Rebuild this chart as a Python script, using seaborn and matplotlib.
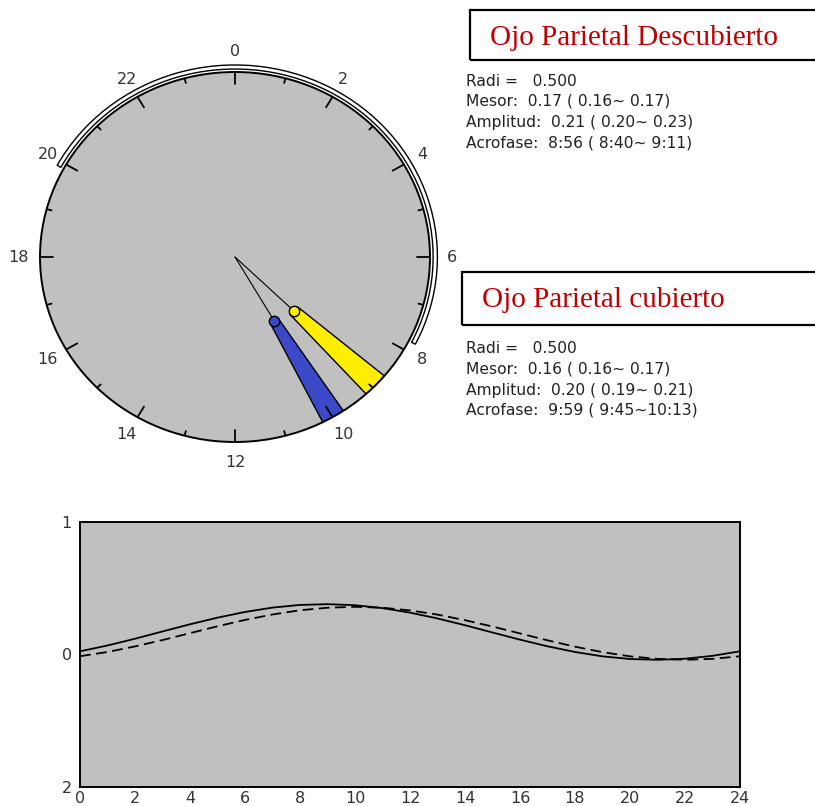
import numpy as np
import pandas as pd
import matplotlib
matplotlib.use("Agg")
import matplotlib.pyplot as plt
import seaborn as sns
from matplotlib.patches import Rectangle

# Cosinor summary
groups = ["Ojo Parietal Descubierto", "Ojo Parietal cubierto"]
radi = 0.5
mesor = [0.17, 0.16]
amplitude = [0.21, 0.20]
acro = [8 + 56 / 60, 9 + 59 / 60]
acro_lo = [8 + 40 / 60, 9 + 45 / 60]
acro_hi = [9 + 11 / 60, 10 + 13 / 60]
wedge_colors = ["#ffee00", "#3b48c8"]
stats_lines = [
    ["Radi =   0.500", "Mesor:  0.17 ( 0.16~ 0.17)",
     "Amplitud:  0.21 ( 0.20~ 0.23)", "Acrofase:  8:56 ( 8:40~ 9:11)"],
    ["Radi =   0.500", "Mesor:  0.16 ( 0.16~ 0.17)",
     "Amplitud:  0.20 ( 0.19~ 0.21)", "Acrofase:  9:59 ( 9:45~10:13)"],
]
# outer arc on the clock (hours, start -> end going through 0)
arc_start, arc_end = 19.9, 7.8

# fitted curves, read at each hour
hours = list(range(25))
curve_descubierto = [0.024, 0.068, 0.119, 0.174, 0.228, 0.278, 0.321, 0.354, 0.374,
                     0.380, 0.372, 0.350, 0.316, 0.272, 0.221, 0.166, 0.112, 0.062,
                     0.019, -0.014, -0.034, -0.040, -0.032, -0.010, 0.024]
curve_cubierto = [-0.013, 0.019, 0.061, 0.109, 0.161, 0.213, 0.261, 0.302, 0.334,
                  0.353, 0.360, 0.353, 0.333, 0.301, 0.259, 0.211, 0.159, 0.107,
                  0.059, 0.018, -0.014, -0.033, -0.040, -0.033, -0.013]

sns.set_style("white")
plt.rcParams["font.family"] = ["DejaVu Sans"]

W, H = 815, 806
fig = plt.figure(figsize=(W / 100, H / 100), dpi=100)


def fbox(x0, y0, x1, y1):
    return [x0 / W, 1 - y1 / H, (x1 - x0) / W, (y1 - y0) / H]


def h2rad(h):
    return np.asarray(h, dtype=float) * 2 * np.pi / 24


# ---------------- clock (polar) ----------------
ax = fig.add_axes(fbox(40, 72, 430, 442), projection="polar")
ax.set_aspect("auto")
ax.set_theta_zero_location("N")
ax.set_theta_direction(-1)
ax.set_ylim(0, radi)
ax.set_facecolor("#c0c0c0")
ax.grid(False)
ax.set_xticks([])
ax.set_yticks([])
ax.spines["polar"].set_linewidth(1.4)
ax.spines["polar"].set_color("black")

# hour ticks
for h in range(24):
    ln = 0.033 if h % 2 == 0 else 0.013
    ax.plot([h2rad(h)] * 2, [radi - ln, radi], color="black", lw=1.3)
# hour labels
for h in range(0, 24, 2):
    ax.text(h2rad(h), radi * 1.11, str(h), ha="center", va="center",
            fontsize=11.5, color="#333333", clip_on=False)

# outer arc
span = (arc_end + 24 - arc_start) % 24
ax.bar(h2rad(arc_start + span / 2), 0.011, width=h2rad(span), bottom=radi * 1.016,
       color="white", edgecolor="black", linewidth=1.0, clip_on=False)

# acrophase wedges
for i in range(2):
    th = h2rad(acro[i])
    ax.plot([th, th], [0, amplitude[i]], color="black", lw=0.8)
    ax.bar(h2rad((acro_lo[i] + acro_hi[i]) / 2), radi - amplitude[i],
           width=h2rad(acro_hi[i] - acro_lo[i]), bottom=amplitude[i],
           color=wedge_colors[i], edgecolor="black", linewidth=1.0)
    ax.plot([th], [amplitude[i]], "o", ms=7.5, mfc=wedge_colors[i], mec="black", mew=1.0)

# ---------------- titles and stats ----------------
boxes = [(470, 10, 60), (462, 272, 325)]
title_pos = [(490, 38), (482, 300)]
stats_y = [81, 349]
for i in range(2):
    x0, y0, y1 = boxes[i]
    fig.patches.append(Rectangle((x0 / W, 1 - y1 / H), (W + 10 - x0) / W, (y1 - y0) / H,
                                 transform=fig.transFigure, fill=False,
                                 edgecolor="black", linewidth=1.6))
    tx, ty = title_pos[i]
    fig.text(tx / W, 1 - ty / H, groups[i], ha="left", va="center",
             fontsize=21, color="#c00000", family=["Liberation Serif", "DejaVu Serif"])
    for j, line in enumerate(stats_lines[i]):
        fig.text(466 / W, 1 - (stats_y[i] + 20.5 * j) / H, line, ha="left", va="center",
                 fontsize=11.2, color="#222222")

# ---------------- curves ----------------
ax2 = fig.add_axes(fbox(80, 522, 740, 787))
ax2.set_facecolor("#c0c0c0")
df = pd.DataFrame({"hora": hours, "desc": curve_descubierto, "cub": curve_cubierto})
sns.lineplot(data=df, x="hora", y="desc", ax=ax2, color="black", lw=1.3)
sns.lineplot(data=df, x="hora", y="cub", ax=ax2, color="black", lw=1.3,
             linestyle=(0, (6, 3)))
ax2.set_xlim(0, 24)
ax2.set_ylim(-1, 1)
ax2.set_xlabel("")
ax2.set_ylabel("")
ax2.set_xticks(range(0, 25, 2))
ax2.set_xticks(range(1, 24, 2), minor=True)
ax2.set_yticks([-1, 0, 1])
ax2.set_yticklabels(["2", "0", "1"])
ax2.set_yticks(np.arange(-0.8, 0.81, 0.2), minor=True)
ax2.tick_params(axis="x", which="major", direction="in", length=10, width=1.3,
                labelsize=11.5, labelcolor="#333333", pad=3)
ax2.tick_params(axis="x", which="minor", direction="in", length=5, width=1.3)
ax2.tick_params(axis="y", which="major", length=0, labelsize=11.5,
                labelcolor="#333333", pad=6)
ax2.tick_params(axis="y", which="minor", direction="in", length=5, width=1.3)
for s in ax2.spines.values():
    s.set_linewidth(1.4)
    s.set_color("black")

fig.savefig("out.png", dpi=100, facecolor="white")
